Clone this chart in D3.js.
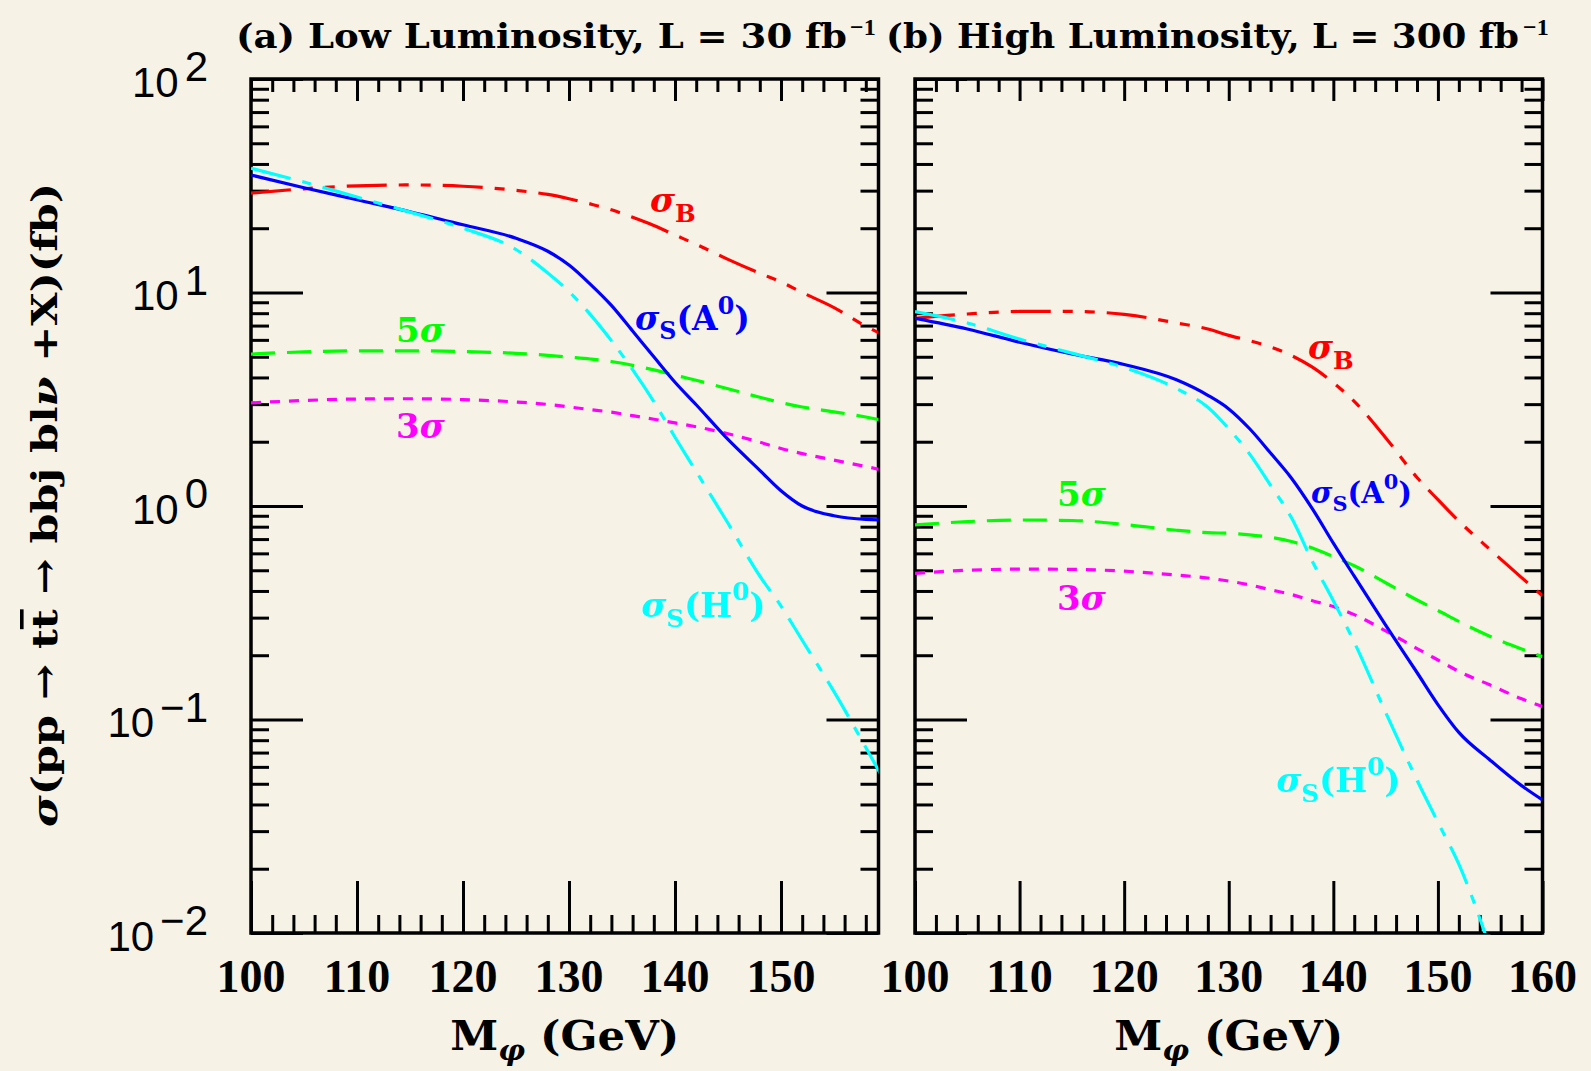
<!DOCTYPE html>
<html>
<head>
<meta charset="utf-8">
<script src="https://cdn.jsdelivr.net/npm/d3@7"></script>
<style>
html,body{margin:0;padding:0;background:#f7f2e6;}
svg{display:block;}
</style>
</head>
<body>
<svg id="chart" width="1591" height="1071"></svg>
<script>
// ---------------- data ----------------
const masses = [100,105,110,115,120,125,128,130,132,134,136,138,140,142,145,148,150,152,155,158,160];

// panel (a): low luminosity, 30 fb^-1
const sigmaB_a     = [29.2,30.6,31.6,31.9,31.45,30.1,28.8,27.5,26.0,24.4,22.5,20.6,18.6,16.8,14.3,12.3,11.2,10.0,8.5,6.95,6.2];
const sigmaS_A0_a  = [35.5,30.95,27.2,23.9,20.75,17.95,15.6,13.45,10.95,8.7,6.6,5.0,3.8,2.98,2.05,1.47,1.18,1.0,0.9,0.865,0.86];
const sigmaS_H0_a  = [38.2,32.9,28.0,23.8,20.0,15.9,12.35,10.1,7.9,5.95,4.35,3.08,2.1,1.45,0.83,0.47,0.34,0.235,0.135,0.074,0.049];
const fiveSigma_a  = [5.15,5.27,5.33,5.33,5.29,5.19,5.08,4.98,4.88,4.75,4.56,4.34,4.1,3.88,3.54,3.23,3.05,2.91,2.76,2.61,2.5];
const threeSigma_a = [3.04,3.12,3.17,3.18,3.15,3.07,2.99,2.91,2.83,2.75,2.65,2.55,2.45,2.35,2.18,1.99,1.86,1.76,1.64,1.53,1.46];

// panel (b): high luminosity, 300 fb^-1
const sigmaB_b     = [7.57,7.93,8.15,8.15,7.9,7.2,6.75,6.3,5.95,5.56,5.07,4.47,3.78,3.09,2.09,1.36,1.07,0.85,0.624,0.462,0.38];
const sigmaS_A0_b  = [7.57,6.75,5.85,5.15,4.6,3.9,3.3,2.85,2.3,1.77,1.35,0.97,0.67,0.469,0.277,0.166,0.1175,0.087,0.0645,0.049,0.042];
const sigmaS_H0_b  = [8.13,7.2,6.05,5.2,4.45,3.55,2.9,2.3,1.75,1.25,0.88,0.55,0.36,0.23,0.108,0.052,0.033,0.021,0.0085,null,null];
const fiveSigma_b  = [0.815,0.845,0.86,0.855,0.82,0.77,0.75,0.745,0.733,0.713,0.682,0.635,0.579,0.525,0.437,0.363,0.324,0.288,0.245,0.214,0.197];
const threeSigma_b = [0.484,0.5,0.506,0.505,0.495,0.475,0.46,0.445,0.427,0.405,0.385,0.36,0.338,0.31,0.26,0.215,0.19,0.168,0.145,0.125,0.115];

// tick labels
const xTickLabels_a = [100,110,120,130,140,150];
const xTickLabels_b = [100,110,120,130,140,150,160];
const yDecades = [-2,-1,0,1,2];

const titles = ["(a) Low Luminosity, L = 30 fb", "(b) High Luminosity, L = 300 fb"];

// ---------------- drawing ----------------
const svg = d3.select('#chart');
svg.append('rect').attr('width',1591).attr('height',1071).attr('fill','#f7f2e6');

const Y0 = 79, Y1 = 933;
const y = d3.scaleLog().domain([0.01,100]).range([Y1,Y0]);

const serif = "'DejaVu Serif', serif";
const styles = {
  B:   {color:'#ff0000', dash:'40,12,10,12,10,12'},
  A0:  {color:'#0000ff', dash:null},
  H0:  {color:'#00ffff', dash:'41,12,9,12'},
  s5:  {color:'#00ff00', dash:'24,12'},
  s3:  {color:'#ff00ff', dash:'10,9'}
};

const panels = [
  {left:251, right:878.5, pxPerGeV:10.6, labels:xTickLabels_a,
   series:{B:sigmaB_a, s5:fiveSigma_a, s3:threeSigma_a, A0:sigmaS_A0_a, H0:sigmaS_H0_a},
   title:{x:236, w:611, supX:850}},
  {left:915, right:1542.5, pxPerGeV:(1542.5-915)/60, labels:xTickLabels_b,
   series:{B:sigmaB_b, s5:fiveSigma_b, s3:threeSigma_b, A0:sigmaS_A0_b, H0:sigmaS_H0_b},
   title:{x:886, w:633, supX:1523}}
];

function styleAxis(sel){
  sel.select('.domain').remove();
  sel.selectAll('.tick line').attr('stroke','#000').attr('stroke-width',3);
}

const majorY = yDecades.map(e => Math.pow(10,e));
const minorY = [];
for (let e=-2; e<2; e++) for (let k=2; k<10; k++) minorY.push(k*Math.pow(10,e));

panels.forEach((p, idx) => {
  const x = d3.scaleLinear().domain([100,160]).range([p.left, p.left + 60*p.pxPerGeV]);
  const g = svg.append('g');
  const clipId = 'clip'+idx;
  svg.append('clipPath').attr('id',clipId).append('rect')
    .attr('x',p.left).attr('y',Y0).attr('width',p.right-p.left).attr('height',Y1-Y0);

  const majorX = d3.range(100,161,10).filter(v => x(v) <= p.right+1);
  const minorX = d3.range(102,160,2).filter(v => v%10!==0 && x(v) < p.right-1);

  // x ticks bottom/top
  g.append('g').attr('transform',`translate(0,${Y1})`)
    .call(d3.axisBottom(x).tickValues(majorX).tickSize(-52).tickFormat('')).call(styleAxis);
  g.append('g').attr('transform',`translate(0,${Y1})`)
    .call(d3.axisBottom(x).tickValues(minorX).tickSize(-18).tickFormat('')).call(styleAxis);
  g.append('g').attr('transform',`translate(0,${Y0})`)
    .call(d3.axisTop(x).tickValues(majorX).tickSize(-22).tickFormat('')).call(styleAxis);
  g.append('g').attr('transform',`translate(0,${Y0})`)
    .call(d3.axisTop(x).tickValues(minorX).tickSize(-13).tickFormat('')).call(styleAxis);
  // y ticks left/right
  g.append('g').attr('transform',`translate(${p.left},0)`)
    .call(d3.axisLeft(y).tickValues(majorY).tickSize(-52).tickFormat('')).call(styleAxis);
  g.append('g').attr('transform',`translate(${p.left},0)`)
    .call(d3.axisLeft(y).tickValues(minorY).tickSize(-18).tickFormat('')).call(styleAxis);
  g.append('g').attr('transform',`translate(${p.right},0)`)
    .call(d3.axisRight(y).tickValues(majorY).tickSize(-52).tickFormat('')).call(styleAxis);
  g.append('g').attr('transform',`translate(${p.right},0)`)
    .call(d3.axisRight(y).tickValues(minorY).tickSize(-18).tickFormat('')).call(styleAxis);

  // frame
  g.append('rect').attr('x',p.left).attr('y',Y0).attr('width',p.right-p.left).attr('height',Y1-Y0)
    .attr('fill','none').attr('stroke','#000').attr('stroke-width',3.5);

  // x tick labels
  g.selectAll('text.xl').data(p.labels).join('text').attr('class','xl')
    .attr('x', d => x(d)).attr('y', 992).attr('text-anchor','middle')
    .attr('font-family',"'Liberation Serif', serif").attr('font-weight','bold').attr('font-size',46)
    .attr('fill','#000').text(d => d);

  // x axis title
  const xt = g.append('text').attr('x',(p.left+p.right)/2).attr('y',1050).attr('text-anchor','middle')
    .attr('font-family',serif).attr('font-weight','bold').attr('font-size',41).attr('fill','#000')
    .attr('textLength',229).attr('lengthAdjust','spacingAndGlyphs');
  xt.append('tspan').text('M');
  xt.append('tspan').text('φ').attr('font-size',28).attr('font-style','italic').attr('dy',10);
  xt.append('tspan').text(' (GeV)').attr('dy',-10);

  // panel title
  g.append('text').attr('x',p.title.x).attr('y',48)
    .attr('font-family',serif).attr('font-weight','bold').attr('font-size',33).attr('fill','#000')
    .attr('textLength',p.title.w).attr('lengthAdjust','spacingAndGlyphs').text(titles[idx]);
  g.append('text').attr('x',p.title.supX).attr('y',35)
    .attr('font-family',"'Liberation Serif', serif").attr('font-weight','bold').attr('font-size',24).attr('fill','#000')
    .text('−1');

  // curves
  const cg = svg.append('g').attr('clip-path',`url(#${clipId})`);
  ['B','s5','s3','A0','H0'].forEach(key => {
    const vals = p.series[key];
    const pts = masses.map((m,i) => [m, vals[i]]);
    const line = d3.line().defined(d => d[1] != null)
      .x(d => x(d[0])).y(d => y(d[1])).curve(d3.curveMonotoneX);
    cg.append('path').attr('d', line(pts)).attr('fill','none')
      .attr('stroke', styles[key].color).attr('stroke-width',3.2)
      .attr('stroke-dasharray', styles[key].dash);
  });
});

// y tick labels (left panel only)
yDecades.forEach(e => {
  const t = svg.append('text').attr('x',208).attr('y', y(Math.pow(10,e)) + 17.5)
    .attr('text-anchor','end').attr('font-family',"'Liberation Sans', sans-serif")
    .attr('font-size',42).attr('fill','#000');
  t.append('tspan').text('10');
  t.append('tspan').text(e < 0 ? '−' + Math.abs(e) : String(e)).attr('dy',-15.5).attr('dx',6);
});

// y axis title
const yt = svg.append('text').attr('transform','translate(57,505) rotate(-90)')
  .attr('text-anchor','middle').attr('font-family',serif).attr('font-weight','bold')
  .attr('font-size',36).attr('fill','#000').attr('textLength',644).attr('lengthAdjust','spacingAndGlyphs');
yt.append('tspan').text('σ').attr('font-style','italic');
yt.append('tspan').text('(pp → t');
yt.append('tspan').text('t').style('text-decoration','overline');
yt.append('tspan').text(' → bbj bl');
yt.append('tspan').text('ν').attr('font-style','italic');
yt.append('tspan').text(' +X)(fb)');

// curve labels
function curveLabel(x0, y0, parts, color, fs){
  const t = svg.append('text').attr('x',x0).attr('y',y0).attr('fill',color)
    .attr('font-family',serif).attr('font-weight','bold').attr('font-size',fs);
  let shift = 0;
  parts.forEach(pt => {
    const target = pt.k==='sub' ? fs*0.28 : pt.k==='sup' ? -fs*0.5 : 0;
    const ts = t.append('tspan').text(pt.t).attr('dy', target-shift);
    shift = target;
    if (pt.k==='sub' || pt.k==='sup') ts.attr('font-size', fs*0.72);
    if (pt.it) ts.attr('font-style','italic');
  });
}
const lblB  = [{t:'σ',it:true},{t:'B',k:'sub'}];
const lblA0 = [{t:'σ',it:true},{t:'S',k:'sub'},{t:'(A'},{t:'0',k:'sup'},{t:')'}];
const lblH0 = [{t:'σ',it:true},{t:'S',k:'sub'},{t:'(H'},{t:'0',k:'sup'},{t:')'}];
const lbl5  = [{t:'5'},{t:'σ',it:true}];
const lbl3  = [{t:'3'},{t:'σ',it:true}];

curveLabel(650, 212, lblB, styles.B.color, 34);
curveLabel(635, 330, lblA0, styles.A0.color, 33);
curveLabel(396, 342, lbl5, styles.s5.color, 34);
curveLabel(396, 438, lbl3, styles.s3.color, 34);
curveLabel(641, 617, lblH0, styles.H0.color, 34);

curveLabel(1308, 359, lblB, styles.B.color, 34);
curveLabel(1311, 503, lblA0, styles.A0.color, 29);
curveLabel(1057, 506, lbl5, styles.s5.color, 34);
curveLabel(1057, 610, lbl3, styles.s3.color, 34);
curveLabel(1276, 792, lblH0, styles.H0.color, 34);
</script>
</body>
</html>
